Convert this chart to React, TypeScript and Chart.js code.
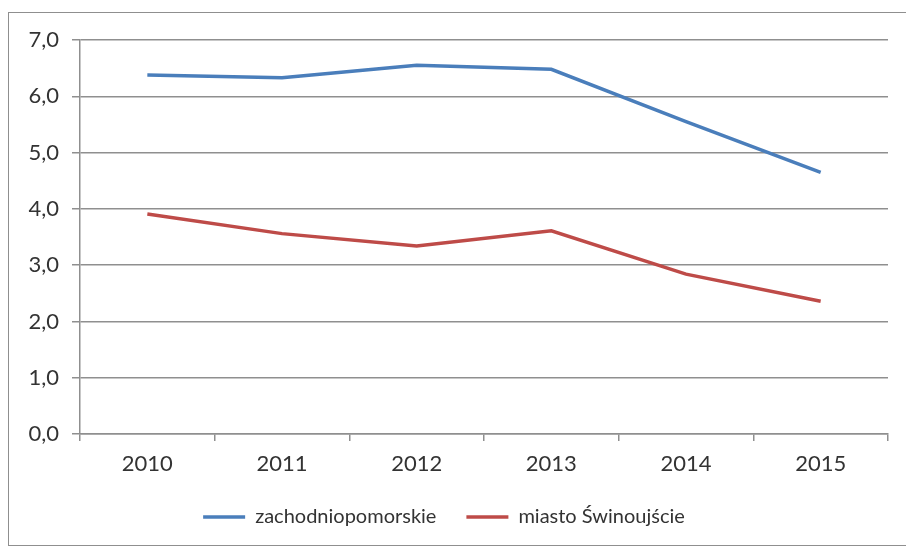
import React, { useEffect, useRef } from "react";
import { Chart, registerables } from "chart.js";

Chart.register(...registerables);

const categories = ["2010", "2011", "2012", "2013", "2014", "2015"];
const zachodniopomorskie = [6.38, 6.33, 6.55, 6.48, 5.55, 4.65];
const swinoujscie = [3.91, 3.56, 3.34, 3.61, 2.84, 2.36];
const seriesNames = ["zachodniopomorskie", "miasto Świnoujście"];

const FONT = "Lato, 'Open Sans', sans-serif";
const TEXT = "#333333";
const GRID = "#8f8f8f";

export default function App() {
  const ref = useRef<HTMLCanvasElement | null>(null);
  useEffect(() => {
    if (!ref.current) return;
    const chart = new Chart(ref.current, {
      type: "line",
      data: {
        labels: categories,
        datasets: [
          {
            label: seriesNames[0],
            data: zachodniopomorskie,
            borderColor: "#4A7EBB",
            backgroundColor: "#4A7EBB",
            borderWidth: 3.5,
            pointRadius: 0,
            tension: 0,
          },
          {
            label: seriesNames[1],
            data: swinoujscie,
            borderColor: "#BE4B48",
            backgroundColor: "#BE4B48",
            borderWidth: 3.5,
            pointRadius: 0,
            tension: 0,
          },
        ],
      },
      options: {
        animation: false,
        responsive: false,
        maintainAspectRatio: false,
        layout: { padding: { top: 40, right: 18, left: 0, bottom: 12 } },
        plugins: {
          tooltip: { enabled: false },
          legend: {
            position: "bottom",
            labels: {
              usePointStyle: true,
              pointStyle: "line",
              pointStyleWidth: 42,
              boxHeight: 4,
              padding: 30,
              color: TEXT,
              font: { family: FONT, size: 20 },
            },
          },
        },
        scales: {
          x: {
            offset: true,
            afterFit: (scale: any) => {
              scale.height = 43;
            },
            grid: {
              offset: true,
              drawOnChartArea: false,
              drawTicks: true,
              tickLength: 7,
              color: GRID,
              lineWidth: 1.5,
            },
            border: { display: true, color: GRID, width: 1.5 },
            ticks: {
              color: TEXT,
              padding: 10,
              font: { family: FONT, size: 22 },
            },
          },
          y: {
            min: 0,
            max: 7,
            afterFit: (scale: any) => {
              scale.width = 80;
            },
            grid: {
              color: GRID,
              lineWidth: 1.5,
              drawTicks: true,
              tickLength: 8,
            },
            border: { display: true, color: GRID, width: 1.5 },
            ticks: {
              stepSize: 1,
              color: TEXT,
              padding: 13,
              font: { family: FONT, size: 22 },
              callback: (v: any) => Number(v).toFixed(1).replace(".", ","),
            },
          },
        },
      },
    });
    return () => chart.destroy();
  }, []);
  return (
    <div>
      <div
        style={{
          position: "fixed",
          left: 8,
          top: 12,
          width: 920,
          height: 534,
          border: "1.5px solid #8f8f8f",
          boxSizing: "border-box",
        }}
      />
      <canvas
        ref={ref}
        width={906}
        height={549}
        style={{ position: "fixed", left: 0, top: 0, width: 906, height: 549 }}
      />
    </div>
  );
}
